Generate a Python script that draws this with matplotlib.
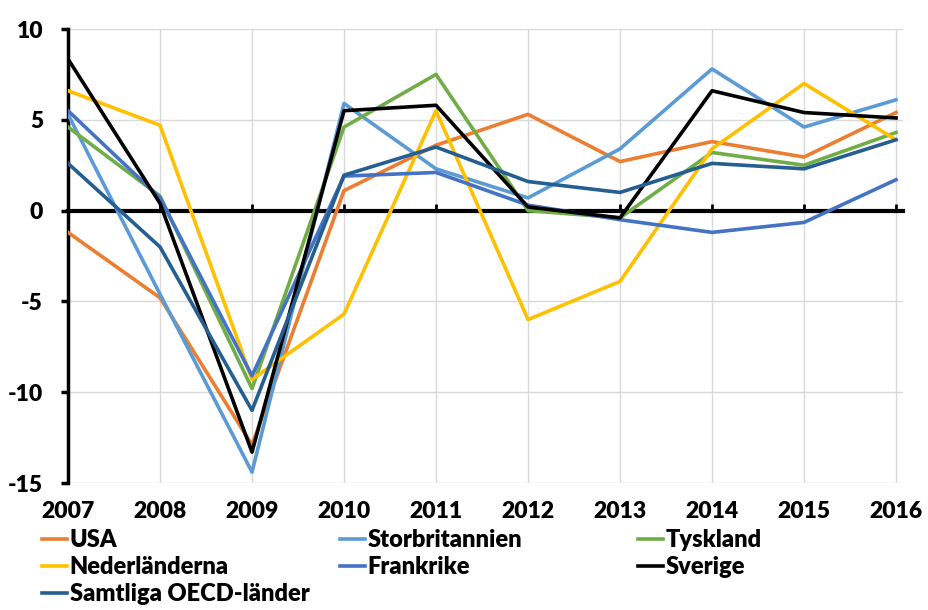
import matplotlib
matplotlib.use("Agg")
import matplotlib.pyplot as plt
from matplotlib.lines import Line2D

years = [2007, 2008, 2009, 2010, 2011, 2012, 2013, 2014, 2015, 2016]

usa = [-1.2, -4.8, -12.9, 1.1, 3.6, 5.3, 2.7, 3.8, 2.95, 5.4]
storbritannien = [5.3, -4.6, -14.4, 5.9, 2.3, 0.7, 3.4, 7.8, 4.6, 6.1]
tyskland = [4.6, 0.8, -9.8, 4.6, 7.5, 0.0, -0.4, 3.2, 2.5, 4.3]
nederlanderna = [6.6, 4.7, -9.3, -5.7, 5.5, -6.0, -3.9, 3.4, 7.0, 3.9]
frankrike = [5.5, 0.7, -9.1, 1.9, 2.1, 0.3, -0.5, -1.2, -0.65, 1.7]
sverige = [8.35, 0.4, -13.3, 5.5, 5.8, 0.2, -0.4, 6.6, 5.4, 5.1]
oecd = [2.6, -2.0, -11.0, 1.95, 3.5, 1.6, 1.0, 2.6, 2.3, 3.9]

series = [
    ("USA", usa, "#ED7D31"),
    ("Storbritannien", storbritannien, "#5B9BD5"),
    ("Tyskland", tyskland, "#70AD47"),
    ("Nederländerna", nederlanderna, "#FFC000"),
    ("Frankrike", frankrike, "#4472C4"),
    ("Sverige", sverige, "#000000"),
    ("Samtliga OECD-länder", oecd, "#255E91"),
]

plt.rcParams['font.family'] = ['Lato', 'DejaVu Sans']
plt.rcParams['axes.unicode_minus'] = False
FS = 16.5
W = "heavy"

fig = plt.figure(figsize=(9.29, 6.10), dpi=100)
ax = fig.add_axes([68 / 929, 1 - 483 / 610, 835 / 929, 454 / 610])

lines = {}
for name, vals, col in series:
    ln, = ax.plot(years, vals, color=col, lw=2.6, zorder=3)
    lines[name] = ln

ax.set_xlim(2007, 2016.076)
ax.set_ylim(-15, 10)
ax.set_yticks(range(-15, 11, 5))
ax.set_xticks(years)
ax.grid(True, color="#D9D9D9", lw=1)
ax.set_axisbelow(True)

for s in ["top", "right"]:
    ax.spines[s].set_visible(False)
ax.spines["left"].set_linewidth(2.5)
ax.spines["bottom"].set_position(("data", 0))
ax.spines["bottom"].set_linewidth(3)
ax.spines["bottom"].set_zorder(2)
ax.tick_params(axis="x", direction="in", length=5, width=2, labelbottom=False)
ax.tick_params(axis="y", direction="out", length=5, width=2.5, labelsize=FS, pad=13)
for t in ax.get_yticklabels():
    t.set_fontweight(W)

sec = ax.secondary_xaxis("bottom")
sec.set_xticks(years)
sec.spines["bottom"].set_visible(False)
sec.tick_params(length=0, labelsize=FS, pad=13)
for t in sec.get_xticklabels():
    t.set_fontweight(W)

columns = [
    (["USA", "Nederländerna", "Samtliga OECD-länder"], 42 / 929),
    (["Storbritannien", "Frankrike"], 340 / 929),
    (["Tyskland", "Sverige"], 638 / 929),
]
for names, x0 in columns:
    handles = [Line2D([], [], color=lines[n].get_color(), lw=2.6) for n in names]
    fig.legend(handles, names, loc="upper left", bbox_to_anchor=(x0, 1 - 529 / 610),
               frameon=False, handlelength=1.05, handletextpad=0.12,
               labelspacing=0.22, borderpad=0, borderaxespad=0,
               prop={"weight": W, "size": 17})

fig.savefig("out.png", dpi=100)
